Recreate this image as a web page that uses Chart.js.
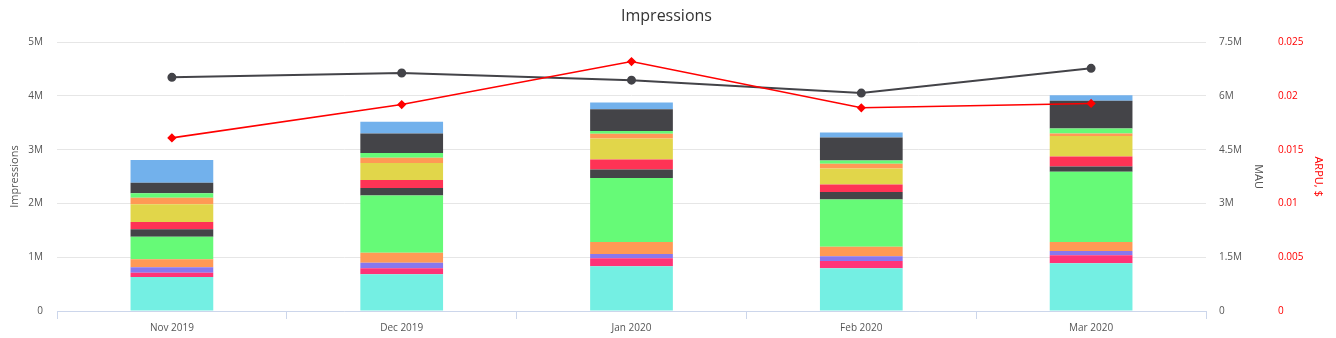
<!DOCTYPE html>
<html>
<head>
<meta charset="utf-8">
<script src="https://cdn.jsdelivr.net/npm/chart.js@4.4.1/dist/chart.umd.min.js"></script>
<style>
	html, body { margin: 0; padding: 0; background: #fff; }
	#wrap { width: 1336px; height: 338px; position: relative; }
</style>
</head>
<body>
<div id="wrap"><canvas id="impresiones"></canvas></div>
<script>
var meses = ['Nov 2019', 'Dec 2019', 'Jan 2020', 'Feb 2020', 'Mar 2020'];

// segmentos apilados, de abajo hacia arriba (en millones)
var segCian     = [0.632, 0.682, 0.831, 0.794, 0.887];
var segRosa     = [0.080, 0.112, 0.149, 0.135, 0.148];
var segMorado   = [0.100, 0.104, 0.079, 0.088, 0.080];
var segNaranja  = [0.151, 0.186, 0.224, 0.178, 0.168];
var segVerde    = [0.420, 1.066, 1.189, 0.881, 1.306];
var segOscuro   = [0.138, 0.136, 0.162, 0.136, 0.101];
var segRojo     = [0.135, 0.149, 0.186, 0.143, 0.185];
var segAmarillo = [0.329, 0.316, 0.390, 0.297, 0.378];
var segNaranja2 = [0.123, 0.098, 0.086, 0.086, 0.050];
var segVerde2   = [0.082, 0.088, 0.050, 0.063, 0.093];
var segOscuro2  = [0.197, 0.366, 0.409, 0.428, 0.513];
var segAzul     = [0.422, 0.216, 0.124, 0.093, 0.106];

var mau  = [6.52, 6.64, 6.44, 6.08, 6.77]; // millones
var arpu = [0.0161, 0.0192, 0.0232, 0.0189, 0.0193];

var ticksImpresiones = ['0', '1M', '2M', '3M', '4M', '5M'];

//<editor-fold defaultstate="collapsed" desc="Funciones">
function millones(arr) {
	return arr.map(function (v) { return v * 1000000; });
}

function barra(datos, color) {
	return {
		type: 'bar',
		data: millones(datos),
		backgroundColor: color,
		borderWidth: 0,
		barPercentage: 0.36,
		categoryPercentage: 1,
		yAxisID: 'y',
		stack: 'imp',
		order: 2
	};
}

function formatoM(v) {
	if (v === 0) return '0';
	return (v / 1000000) + 'M';
}

function formatoArpu(v) {
	return String(Number(v.toFixed(3)));
}

function ancho(w) {
	return function (scale) { scale.width = w; };
}
//</editor-fold>

var fuente = "'Open Sans', 'DejaVu Sans', sans-serif";
Chart.defaults.font.family = fuente;
Chart.defaults.font.size = 10;
Chart.defaults.color = '#555';

var config = {
	data: {
		labels: meses,
		datasets: [
			{
				type: 'line', label: 'ARPU', data: arpu, yAxisID: 'y2',
				borderColor: '#ff0000', backgroundColor: '#ff0000', borderWidth: 1.6,
				pointStyle: 'rectRot', pointRadius: 3.5, tension: 0, order: 0
			},
			{
				type: 'line', label: 'MAU', data: millones(mau), yAxisID: 'y1',
				borderColor: '#434348', backgroundColor: '#434348', borderWidth: 2,
				pointStyle: 'circle', pointRadius: 3.5, tension: 0, order: 1
			},
			barra(segCian, '#74efe3'),
			barra(segRosa, '#ff3377'),
			barra(segMorado, '#8877ee'),
			barra(segNaranja, '#ff9955'),
			barra(segVerde, '#66fa77'),
			barra(segOscuro, '#444448'),
			barra(segRojo, '#ff3355'),
			barra(segAmarillo, '#e1d64a'),
			barra(segNaranja2, '#ff9955'),
			barra(segVerde2, '#66fa77'),
			barra(segOscuro2, '#444448'),
			barra(segAzul, '#72b1ec')
		]
	},
	options: {
		responsive: false,
		animation: false,
		layout: { padding: { left: 8, right: 11, top: 0, bottom: 1 } },
		plugins: {
			legend: { display: false },
			tooltip: { enabled: false },
			title: {
				display: true, text: 'Impressions', color: '#333',
				font: { size: 16, weight: 'normal', family: fuente },
				padding: { top: 7, bottom: 16 }
			}
		},
		scales: {
			x: {
				stacked: true,
				grid: { offset: true, drawOnChartArea: false, color: '#ccd6eb', tickLength: 8 },
				border: { color: '#ccd6eb' },
				ticks: { color: '#555', padding: 3 }
			},
			y: {
				stacked: true, position: 'left', min: 0, max: 5000000,
				afterFit: ancho(49),
				grid: { color: '#e6e6e6', drawTicks: false },
				border: { display: false },
				title: { display: true, text: 'Impressions', color: '#555', font: { size: 11 }, padding: 0 },
				ticks: {
					stepSize: 1000000, padding: 14,
					callback: function (v, i) { return ticksImpresiones[i]; }
				}
			},
			y1: {
				position: 'right', min: 0, max: 7500000,
				afterFit: ancho(59),
				grid: { display: false },
				border: { display: false },
				title: { display: true, text: 'MAU', color: '#555', font: { size: 11 }, padding: 0 },
				ticks: { stepSize: 1500000, padding: 5, callback: formatoM }
			},
			y2: {
				position: 'right', min: 0, max: 0.025,
				afterFit: ancho(60),
				grid: { display: false },
				border: { display: false },
				title: { display: true, text: 'ARPU, $', color: '#ff0000', font: { size: 11 }, padding: 0 },
				ticks: { stepSize: 0.005, padding: 5, color: '#ff0000', callback: formatoArpu }
			}
		}
	}
};

var canvas = document.getElementById('impresiones');
canvas.width = 1336;
canvas.height = 338;
window.grafico = new Chart(canvas.getContext('2d'), config);
</script>
</body>
</html>
